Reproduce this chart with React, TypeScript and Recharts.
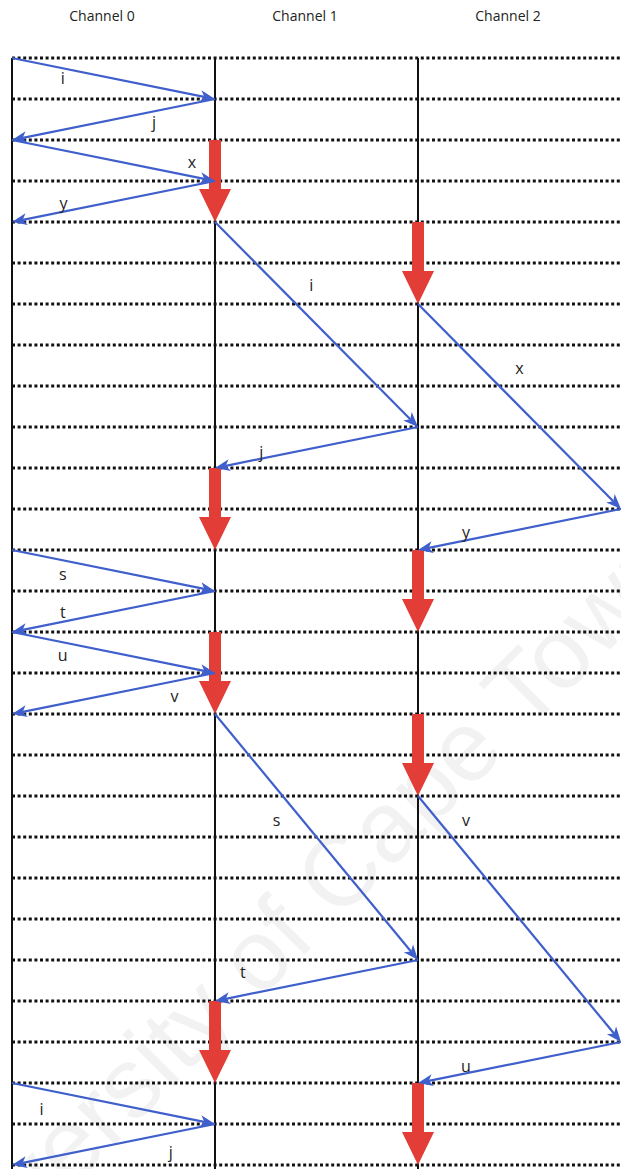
import React from "react";
import { ComposedChart, XAxis, YAxis, ReferenceLine, Scatter } from "recharts";

// Channels (x axis categories, drawn as vertical life-lines)
const channelNames = ["Channel 0", "Channel 1", "Channel 2", "Channel 3"];
const lifeLines = [0, 1, 2];
const titleTicks = [0, 1, 2];

// Time rows (dotted horizontal lines)
const rows = [0, 1, 2, 3, 4, 5, 6, 7, 8, 9, 10, 11, 12, 13, 14, 15, 16, 17, 18, 19, 20, 21, 22, 23, 24, 25, 26, 27];

// Messages: from (channel,row) to (channel,row) with label
const messages = [
  { label: "i", fromCh: 0, fromRow: 0, toCh: 1, toRow: 1 },
  { label: "j", fromCh: 1, fromRow: 1, toCh: 0, toRow: 2 },
  { label: "x", fromCh: 0, fromRow: 2, toCh: 1, toRow: 3 },
  { label: "y", fromCh: 1, fromRow: 3, toCh: 0, toRow: 4 },
  { label: "i", fromCh: 1, fromRow: 4, toCh: 2, toRow: 9 },
  { label: "j", fromCh: 2, fromRow: 9, toCh: 1, toRow: 10 },
  { label: "x", fromCh: 2, fromRow: 6, toCh: 3, toRow: 11 },
  { label: "y", fromCh: 3, fromRow: 11, toCh: 2, toRow: 12 },
  { label: "s", fromCh: 0, fromRow: 12, toCh: 1, toRow: 13 },
  { label: "t", fromCh: 1, fromRow: 13, toCh: 0, toRow: 14 },
  { label: "u", fromCh: 0, fromRow: 14, toCh: 1, toRow: 15 },
  { label: "v", fromCh: 1, fromRow: 15, toCh: 0, toRow: 16 },
  { label: "s", fromCh: 1, fromRow: 16, toCh: 2, toRow: 22 },
  { label: "t", fromCh: 2, fromRow: 22, toCh: 1, toRow: 23 },
  { label: "v", fromCh: 2, fromRow: 18, toCh: 3, toRow: 24 },
  { label: "u", fromCh: 3, fromRow: 24, toCh: 2, toRow: 25 },
  { label: "i", fromCh: 0, fromRow: 25, toCh: 1, toRow: 26 },
  { label: "j", fromCh: 1, fromRow: 26, toCh: 0, toRow: 27 },
];

// Label placement along each message: [fraction along, dx px, dy px]
const labelPlacement: [number, number, number][] = [
  [0.25, 0, 10],
  [0.3, 0, 11],
  [0.886, 0, -14],
  [0.746, 0, -9],
  [0.307, 34, 0],
  [0.772, 0, -7],
  [0.312, 38, 0],
  [0.764, 0, -8],
  [0.25, 0, 14],
  [0.75, 0, -10],
  [0.25, 0, 13],
  [0.2, 0, 15],
  [0.431, -26, 0],
  [0.863, 0, -23],
  [0.098, 28, 0],
  [0.764, 0, -7],
  [0.145, 0, 20],
  [0.218, 0, 19],
];

// Computation blocks (red arrows): channel, start row, end row
const blocks = [
  { ch: 1, from: 2, to: 4 },
  { ch: 2, from: 4, to: 6 },
  { ch: 1, from: 10, to: 12 },
  { ch: 2, from: 12, to: 14 },
  { ch: 1, from: 14, to: 16 },
  { ch: 2, from: 16, to: 18 },
  { ch: 1, from: 23, to: 25 },
  { ch: 2, from: 25, to: 27 },
];

// Endpoints of the messages, used to give the axes data
const endpoints = messages.flatMap((m) => [
  { ch: m.fromCh, row: m.fromRow },
  { ch: m.toCh, row: m.toRow },
]);

const BLUE = "#3f5fcc";
const RED = "#e33d37";

const blueArrow = (label: string, place: [number, number, number]) => (p: any) => {
  const { x1, y1, x2, y2 } = p;
  const ang = Math.atan2(y2 - y1, x2 - x1);
  const ux = Math.cos(ang);
  const uy = Math.sin(ang);
  const L = 15;
  const W = 6;
  const N = 11;
  const bx = x2 - ux * L;
  const by = y2 - uy * L;
  const nx = x2 - ux * N;
  const ny = y2 - uy * N;
  const pts = `${x2},${y2} ${bx - uy * W},${by + ux * W} ${nx},${ny} ${bx + uy * W},${by - ux * W}`;
  const [t, dx, dy] = place;
  const lx = x1 + (x2 - x1) * t + dx;
  const ly = y1 + (y2 - y1) * t + dy;
  return (
    <g>
      <line x1={x1} y1={y1} x2={nx} y2={ny} stroke={BLUE} strokeWidth={2.2} />
      <polygon points={pts} fill={BLUE} />
      <text
        x={lx}
        y={ly}
        textAnchor="middle"
        dominantBaseline="central"
        fontSize={16}
        fontFamily="'Open Sans', sans-serif"
        fill="#222"
      >
        {label}
      </text>
    </g>
  );
};

const redArrow = (p: any) => {
  const { x1, y1, y2 } = p;
  const sw = 6;
  const hw = 16;
  const hl = 33;
  const pts = [
    [x1 - sw, y1],
    [x1 + sw, y1],
    [x1 + sw, y2 - hl],
    [x1 + hw, y2 - hl],
    [x1, y2],
    [x1 - hw, y2 - hl],
    [x1 - sw, y2 - hl],
  ]
    .map((q) => q.join(","))
    .join(" ");
  return <polygon points={pts} fill={RED} />;
};

const TitleTick = (props: any) => {
  const { x, payload } = props;
  return (
    <text
      x={x + 90}
      y={21}
      textAnchor="middle"
      fontSize={14}
      fontFamily="'Open Sans', sans-serif"
      fill="#222"
    >
      {channelNames[payload.value]}
    </text>
  );
};

export default function App() {
  return (
    <div style={{ position: "absolute", left: 0, top: 0, width: 621, height: 1169, background: "#fff", overflow: "hidden" }}>
      <svg width={621} height={1169} style={{ position: "absolute", left: 0, top: 0 }}>
        <text
          x={285}
          y={925}
          textAnchor="middle"
          dominantBaseline="central"
          fontSize={100}
          fontFamily="'Liberation Sans', sans-serif"
          fill="#000"
          fillOpacity={0.05}
          transform="rotate(-45 285 925)"
        >
          University of Cape Town
        </text>
      </svg>
      <div style={{ position: "absolute", left: 0, top: 0 }}>
        <ComposedChart width={621} height={1169} margin={{ top: 28, right: 0, bottom: 4, left: 12 }}>
          <XAxis
            dataKey="ch"
            type="number"
            orientation="top"
            domain={[0, 3]}
            ticks={titleTicks}
            allowDataOverflow
            axisLine={false}
            tickLine={false}
            height={30}
            tick={<TitleTick />}
          />
          <YAxis dataKey="row" type="number" domain={[0, 27]} reversed hide allowDataOverflow />
          <Scatter data={endpoints} dataKey="row" fill="none" isAnimationActive={false} />
          {rows.map((r) => (
            <ReferenceLine
              key={`row-${r}`}
              y={r}
              stroke="#111"
              strokeWidth={3}
              strokeDasharray="3 2.6"
            />
          ))}
          {lifeLines.map((c) => (
            <ReferenceLine
              key={`life-${c}`}
              segment={[{ x: c, y: 0 }, { x: c, y: 27.2 }]}
              ifOverflow="visible"
              stroke="#111"
              strokeWidth={2}
            />
          ))}
          {blocks.map((b, i) => (
            <ReferenceLine
              key={`blk-${i}`}
              segment={[{ x: b.ch, y: b.from }, { x: b.ch, y: b.to }]}
              ifOverflow="visible"
              shape={redArrow}
            />
          ))}
          {messages.map((m, i) => (
            <ReferenceLine
              key={`msg-${i}`}
              segment={[{ x: m.fromCh, y: m.fromRow }, { x: m.toCh, y: m.toRow }]}
              ifOverflow="visible"
              shape={blueArrow(m.label, labelPlacement[i])}
            />
          ))}
        </ComposedChart>
      </div>
    </div>
  );
}
